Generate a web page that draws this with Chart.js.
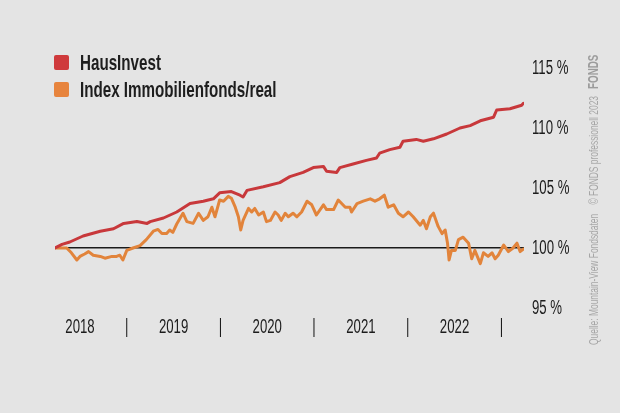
<!DOCTYPE html>
<html>
<head>
<meta charset="utf-8">
<script src="https://cdn.jsdelivr.net/npm/chart.js@4/dist/chart.umd.min.js"></script>
<style>
  html, body { margin: 0; padding: 0; background: #e4e4e4; }
  #wrap { position: relative; width: 620px; height: 413px; overflow: hidden; background: #e4e4e4; }
  #c { position: absolute; left: 0; top: 0; }
  .leg { position: absolute; left: 54px; height: 16px; font-family: "Liberation Sans", Arial, sans-serif; font-weight: bold; font-size: 22px; color: #1e1e1e; white-space: nowrap; }
  .leg .sw { position: absolute; left: 0; top: 0; width: 15px; height: 15px; border-radius: 2px; }
  .leg .tx { position: absolute; left: 26px; top: -3px; line-height: 22px; transform: scaleX(0.69); transform-origin: 0 0; }
  #credit { position: absolute; left: 587px; top: 345px; transform-origin: 0 0;
            font-family: "Liberation Sans", Arial, sans-serif; font-size: 12px; line-height: 12px; color: #a6a6a6; white-space: nowrap; }
  #credit b { font-size: 14px; color: #9c9c9c; }
</style>
</head>
<body>
<div id="wrap">
  <canvas id="c" width="620" height="413"></canvas>
  <div class="leg" style="top:55px"><div class="sw" style="background:#cf3a3c"></div><div class="tx" id="l0"></div></div>
  <div class="leg" style="top:82px"><div class="sw" style="background:#e7843d"></div><div class="tx" id="l1"></div></div>
  <div id="credit">Quelle: Mountain-View Fondsdaten &nbsp;&nbsp;&nbsp;© FONDS professionell 2023 &nbsp;&nbsp;<b>FONDS</b></div>
</div>
<script>
// ---- data (x = months since Jan 2018) ----
const seriesNames = ['HausInvest', 'Index Immobilienfonds/real'];
const yearLabels = ['2018', '2019', '2020', '2021', '2022'];
const yTickValues = [95, 100, 105, 110, 115];

const hausMonths = [2.8, 3.7, 4.7, 6.4, 8.6, 10.3, 11.6, 13.3, 14.6, 15.0, 16.7, 18.4, 20.1, 21.8, 23.1, 23.9, 25.4, 26.5, 26.9, 27.4, 29.5, 31.6, 32.9, 34.6, 35.9, 37.2, 37.6, 38.9, 39.3, 41.0, 42.7, 44.0, 44.4, 45.7, 47.0, 47.4, 49.1, 50.0, 51.3, 53.0, 54.7, 56.0, 57.3, 59.0, 59.4, 61.1, 62.6, 62.8];
const hausValues = [100.0, 100.3, 100.5, 101.0, 101.4, 101.6, 102.05, 102.2, 102.05, 102.2, 102.5, 103.0, 103.7, 103.9, 104.1, 104.6, 104.7, 104.4, 104.25, 104.8, 105.1, 105.45, 105.95, 106.3, 106.7, 106.8, 106.4, 106.3, 106.7, 107.0, 107.3, 107.5, 107.9, 108.2, 108.4, 108.9, 109.05, 108.9, 109.1, 109.5, 110.0, 110.2, 110.6, 110.9, 111.5, 111.6, 111.9, 112.05];

const indexMonths = [2.8, 4.3, 4.9, 5.6, 6.0, 6.6, 7.1, 7.7, 8.6, 9.2, 10.1, 10.7, 11.1, 11.5, 12.0, 12.8, 13.7, 14.5, 15.4, 16.0, 16.5, 17.1, 17.5, 17.9, 18.4, 19.2, 19.7, 20.5, 21.2, 21.8, 22.4, 22.9, 23.3, 23.9, 24.4, 25.0, 25.4, 25.9, 26.3, 26.6, 26.9, 27.6, 28.0, 28.4, 28.9, 29.5, 29.9, 30.4, 31.0, 31.4, 31.8, 32.3, 32.7, 33.3, 33.8, 34.4, 35.1, 35.7, 36.3, 37.2, 37.6, 38.5, 39.1, 40.0, 40.6, 40.8, 41.5, 42.3, 43.2, 43.8, 44.4, 45.0, 45.5, 46.2, 46.8, 47.4, 48.1, 48.7, 49.6, 50.0, 50.4, 50.9, 51.3, 51.9, 52.4, 52.8, 53.1, 53.3, 53.6, 54.1, 54.5, 55.1, 55.8, 56.2, 56.6, 57.3, 57.7, 58.3, 58.8, 59.2, 59.6, 60.3, 60.9, 61.5, 62.0, 62.4, 62.8];
const indexValues = [100.0, 100.0, 99.6, 99.0, 99.3, 99.5, 99.7, 99.4, 99.3, 99.15, 99.3, 99.3, 99.4, 99.0, 99.8, 100.0, 100.2, 100.7, 101.4, 101.55, 101.2, 101.2, 101.5, 101.3, 102.0, 102.9, 102.2, 102.05, 102.9, 102.3, 102.6, 103.4, 102.6, 104.0, 103.9, 104.3, 104.15, 103.4, 102.6, 101.5, 102.3, 103.3, 103.0, 103.3, 102.75, 103.0, 102.2, 102.3, 103.0, 102.75, 102.3, 102.9, 102.6, 102.9, 102.6, 103.0, 103.9, 103.6, 102.75, 103.6, 103.2, 103.2, 104.0, 103.4, 103.4, 103.0, 103.7, 103.9, 104.1, 103.9, 104.1, 104.4, 103.4, 103.6, 102.9, 102.6, 103.0, 102.6, 101.9, 102.3, 101.6, 102.6, 102.9, 101.8, 101.2, 101.5, 100.4, 99.0, 99.8, 99.8, 100.7, 100.9, 100.4, 99.1, 99.8, 98.7, 99.6, 99.3, 99.6, 99.1, 99.4, 100.25, 99.7, 100.0, 100.4, 99.7, 99.9];

document.getElementById('l0').textContent = seriesNames[0];
document.getElementById('l1').textContent = seriesNames[1];

// fit the rotated source line into its column
const credit = document.getElementById('credit');
const cw = credit.offsetWidth;
credit.style.transform = 'rotate(-90deg) scaleX(' + (290 / cw) + ')';

const FONT = '"Liberation Sans", Arial, sans-serif';
const SX = 0.66; // condensed look for canvas text

const canvas = document.getElementById('c');
const c2d = canvas.getContext('2d');
const origFill = c2d.fillText.bind(c2d);
c2d.fillText = function (t, x, y) {
  this.save(); this.translate(x, y); this.scale(SX, 1); origFill(t, 0, 0); this.restore();
};

// x ticks: year label in the middle of each year, separator at each year end
const xTicks = [];
yearLabels.forEach((y, i) => { xTicks.push({ value: 6 + 12 * i, label: y }); xTicks.push({ value: 12 + 12 * i, label: '|' }); });

function pts(xs, ys) { return xs.map((x, i) => ({ x: x, y: ys[i] })); }

new Chart(canvas, {
  type: 'line',
  data: {
    datasets: [
      { label: seriesNames[0], data: pts(hausMonths, hausValues), borderColor: '#c8383b', borderWidth: 3, pointRadius: 0, tension: 0, borderJoinStyle: 'round', borderCapStyle: 'round' },
      { label: seriesNames[1], data: pts(indexMonths, indexValues), borderColor: '#e2843b', borderWidth: 3, pointRadius: 0, tension: 0, borderJoinStyle: 'round', borderCapStyle: 'round' }
    ]
  },
  options: {
    responsive: false,
    animation: false,
    devicePixelRatio: 1,
    layout: { padding: { left: 55, top: 68, right: 0, bottom: 0 } },
    plugins: { legend: { display: false }, tooltip: { enabled: false } },
    scales: {
      x: {
        type: 'linear', min: 2.8, max: 62.9,
        grid: { display: false, drawTicks: false }, border: { display: false },
        afterBuildTicks: (axis) => { axis.ticks = xTicks.map(t => ({ value: t.value })); },
        afterFit: (axis) => { axis.height = 105; },
        ticks: {
          autoSkip: false, maxRotation: 0, minRotation: 0, padding: 7, color: '#1c1c1c',
          font: { family: FONT, size: 20 },
          callback: (v) => { const t = xTicks.find(k => k.value === v); return t ? t.label : ''; }
        }
      },
      y: {
        position: 'right', min: 95, max: 115, z: 1,
        border: { display: false },
        afterBuildTicks: (axis) => { axis.ticks = yTickValues.map(v => ({ value: v })); },
        afterFit: (axis) => { axis.width = 96; },
        grid: {
          drawTicks: false, lineWidth: 1.5,
          color: (ctx) => (ctx.tick && ctx.tick.value === 100) ? '#1a1a1a' : 'rgba(0,0,0,0)'
        },
        ticks: {
          padding: 8, color: '#1c1c1c',
          font: { family: FONT, size: 20 },
          callback: (v) => v + ' %'
        }
      }
    }
  }
});
</script>
</body>
</html>
